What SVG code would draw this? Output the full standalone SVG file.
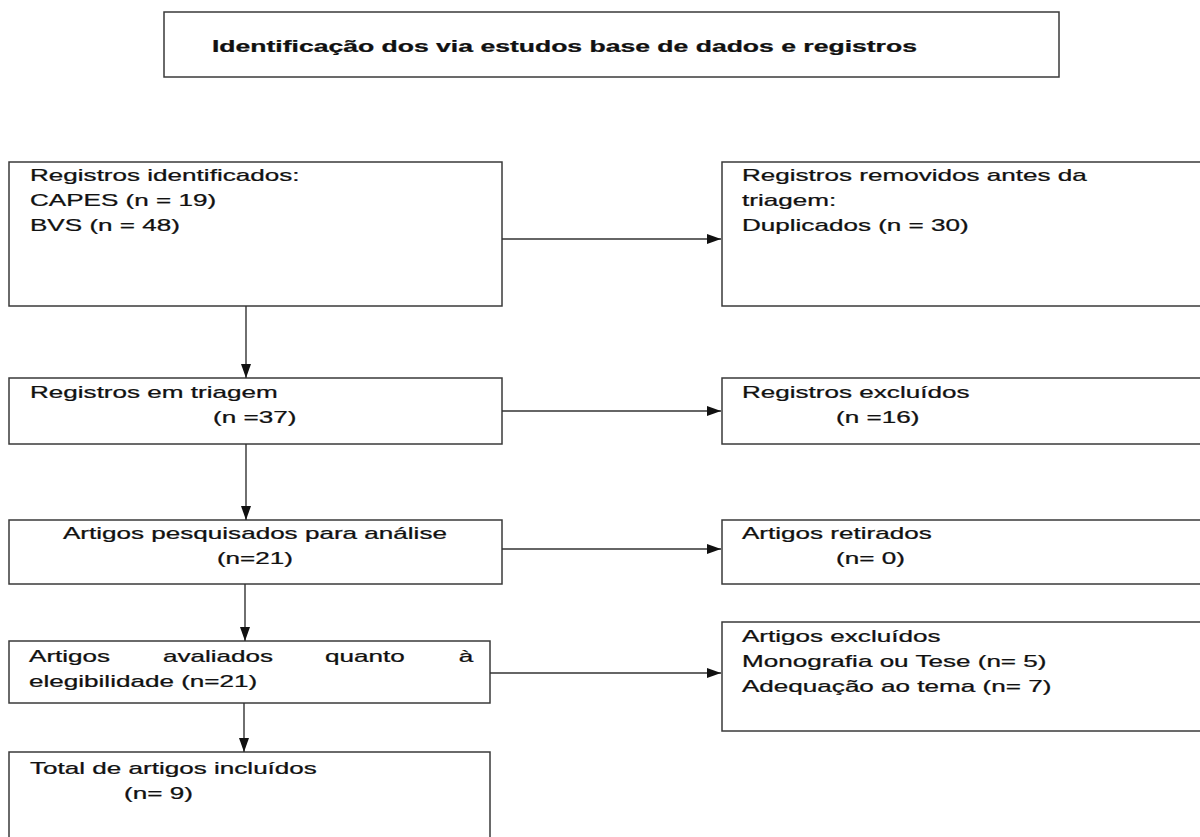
<svg xmlns="http://www.w3.org/2000/svg" width="1200" height="837" viewBox="0 0 1200 837">
<style>
.box{fill:#fff;stroke:#3a3a3a;stroke-width:1.5}
.t{font-family:"Liberation Sans",Arial,sans-serif;font-size:16px;fill:#111;stroke:#111;stroke-width:0.25}
.b{font-weight:bold}
.c{stroke:#333;stroke-width:1.4;fill:none}
</style>
<defs>
<marker id="ah" viewBox="0 0 14 10" refX="14" refY="5" markerWidth="14" markerHeight="10" markerUnits="userSpaceOnUse" orient="auto">
<path d="M0,0 L14,5 L0,10 Z" fill="#111"/>
</marker>
</defs>
<rect width="1200" height="837" fill="#fff"/>

<g id="title">
<rect class="box" x="164" y="12" width="895" height="65"/>
<g transform="scale(1.66,1)"><text class="t b" x="127.7" y="52">Identificação dos via estudos base de dados e registros</text></g>
</g>

<g id="n1">
<rect class="box" x="9" y="162" width="493" height="144"/>
<g transform="scale(1.63,1)" class="t">
<text x="18.4" y="181">Registros identificados:</text>
<text x="18.4" y="206">CAPES (n = 19)</text>
<text x="18.4" y="231">BVS (n = 48)</text>
</g>
</g>

<g id="r1">
<rect class="box" x="722" y="162" width="490" height="144"/>
<g transform="scale(1.63,1)" class="t">
<text x="455.2" y="181">Registros removidos antes da</text>
<text x="455.2" y="206">triagem:</text>
<text x="455.2" y="231">Duplicados (n = 30)</text>
</g>
</g>

<g id="n2">
<rect class="box" x="9" y="378" width="493" height="66"/>
<g transform="scale(1.63,1)" class="t">
<text x="18.4" y="398">Registros em triagem</text>
<text x="130.7" y="423">(n =37)</text>
</g>
</g>

<g id="r2">
<rect class="box" x="722" y="378" width="490" height="66"/>
<g transform="scale(1.63,1)" class="t">
<text x="455.2" y="398">Registros excluídos</text>
<text x="512.9" y="423">(n =16)</text>
</g>
</g>

<g id="n3">
<rect class="box" x="9" y="520" width="493" height="64"/>
<g transform="scale(1.63,1)" class="t" text-anchor="middle">
<text x="156.4" y="539">Artigos pesquisados para análise</text>
<text x="156.4" y="564">(n=21)</text>
</g>
</g>

<g id="r3">
<rect class="box" x="722" y="520" width="490" height="64"/>
<g transform="scale(1.63,1)" class="t">
<text x="455.2" y="539">Artigos retirados</text>
<text x="512.9" y="564">(n= 0)</text>
</g>
</g>

<g id="n4">
<rect class="box" x="9" y="641" width="481" height="62"/>
<g transform="scale(1.63,1)" class="t">
<text x="17.8" y="662">Artigos</text>
<text x="100" y="662">avaliados</text>
<text x="199.4" y="662">quanto</text>
<text x="281.5" y="662">à</text>
<text x="17.8" y="687">elegibilidade (n=21)</text>
</g>
</g>

<g id="r4">
<rect class="box" x="722" y="622" width="490" height="109"/>
<g transform="scale(1.63,1)" class="t">
<text x="455.2" y="642">Artigos excluídos</text>
<text x="455.2" y="667">Monografia ou Tese (n= 5)</text>
<text x="455.2" y="692">Adequação ao tema (n= 7)</text>
</g>
</g>

<g id="n5">
<rect class="box" x="9" y="752" width="481" height="100"/>
<g transform="scale(1.63,1)" class="t">
<text x="18.4" y="774">Total de artigos incluídos</text>
<text x="76.1" y="799">(n= 9)</text>
</g>
</g>

<g id="connectors">
<line class="c" x1="502" y1="239" x2="721" y2="239" marker-end="url(#ah)"/>
<line class="c" x1="502" y1="411" x2="721" y2="411" marker-end="url(#ah)"/>
<line class="c" x1="502" y1="549" x2="721" y2="549" marker-end="url(#ah)"/>
<line class="c" x1="490" y1="673" x2="721" y2="673" marker-end="url(#ah)"/>
<line class="c" x1="246" y1="306" x2="246" y2="378" marker-end="url(#ah)"/>
<line class="c" x1="246" y1="444" x2="246" y2="520" marker-end="url(#ah)"/>
<line class="c" x1="245" y1="584" x2="245" y2="641" marker-end="url(#ah)"/>
<line class="c" x1="244" y1="703" x2="244" y2="752" marker-end="url(#ah)"/>
</g>
</svg>
